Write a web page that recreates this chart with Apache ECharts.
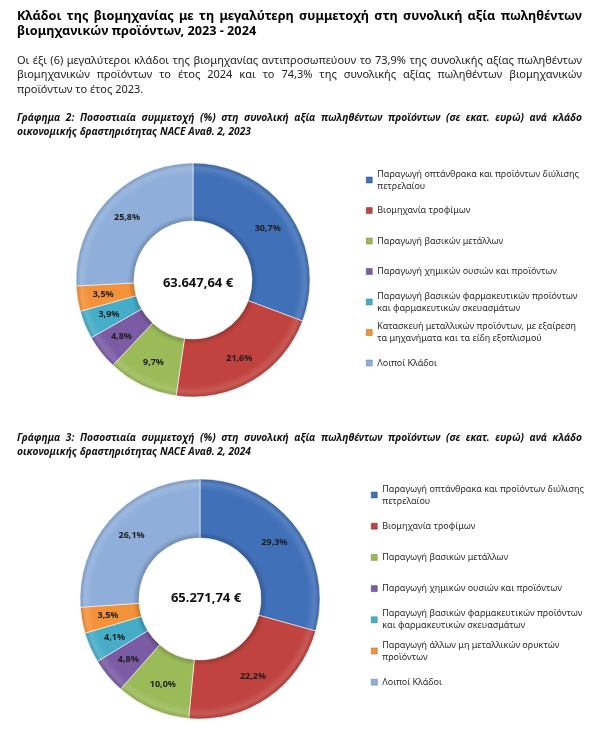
<!DOCTYPE html>
<html>
<head>
<meta charset="utf-8">
<script src="https://cdn.jsdelivr.net/npm/echarts@6/dist/echarts.min.js"></script>
<style>
  html, body { margin: 0; padding: 0; background: #fff; }
  #page { position: relative; width: 603px; height: 733px; overflow: hidden; }
  #chart { position: absolute; left: 0; top: 0; width: 603px; height: 733px; }
  .ln {
    position: absolute; left: 17px; width: 565px; height: 14px; line-height: 14px;
    font-family: "Noto Sans", sans-serif; color: #111; white-space: nowrap; z-index: 2;
  }
  .j { text-align: justify; text-align-last: justify; }
  .ttl { font-weight: bold; font-size: 12.7px; color: #000; }
  .par { font-size: 11px; color: #222; }
  .cap { font-weight: bold; font-style: italic; font-size: 10.2px; color: #111; }
</style>
</head>
<body>
<div id="page">
  <div id="chart"></div>
  <div class="ln ttl j" style="top:8px">Κλάδοι της βιομηχανίας με τη μεγαλύτερη συμμετοχή στη συνολική αξία πωληθέντων</div>
  <div class="ln ttl" style="top:23px">βιομηχανικών προϊόντων, 2023 - 2024</div>
  <div class="ln par j" style="top:53px">Οι έξι (6) μεγαλύτεροι κλάδοι της βιομηχανίας αντιπροσωπεύουν το 73,9% της συνολικής αξίας πωληθέντων</div>
  <div class="ln par j" style="top:67px">βιομηχανικών προϊόντων το έτος 2024 και το 74,3% της συνολικής αξίας πωληθέντων βιομηχανικών</div>
  <div class="ln par" style="top:82px">προϊόντων το έτος 2023.</div>
  <div class="ln cap j" style="top:110px">Γράφημα 2: Ποσοστιαία συμμετοχή (%) στη συνολική αξία πωληθέντων προϊόντων (σε εκατ. ευρώ) ανά κλάδο</div>
  <div class="ln cap" style="top:124px">οικονομικής δραστηριότητας NACE Αναθ. 2, 2023</div>
  <div class="ln cap j" style="top:430px">Γράφημα 3: Ποσοστιαία συμμετοχή (%) στη συνολική αξία πωληθέντων προϊόντων (σε εκατ. ευρώ) ανά κλάδο</div>
  <div class="ln cap" style="top:444px">οικονομικής δραστηριότητας NACE Αναθ. 2, 2024</div>
</div>
<script>
// branches, same order in both years (only the 6th differs)
const categories2023 = [
  'Παραγωγή οπτάνθρακα και προϊόντων διύλισης\nπετρελαίου',
  'Βιομηχανία τροφίμων',
  'Παραγωγή βασικών μετάλλων',
  'Παραγωγή χημικών ουσιών και προϊόντων',
  'Παραγωγή βασικών φαρμακευτικών προϊόντων\nκαι φαρμακευτικών σκευασμάτων',
  'Κατασκευή μεταλλικών προϊόντων, με εξαίρεση\nτα μηχανήματα και τα είδη εξοπλισμού',
  'Λοιποί Κλάδοι',
]
const categories2024 = [
  'Παραγωγή οπτάνθρακα και προϊόντων διύλισης\nπετρελαίου',
  'Βιομηχανία τροφίμων',
  'Παραγωγή βασικών μετάλλων',
  'Παραγωγή χημικών ουσιών και προϊόντων',
  'Παραγωγή βασικών φαρμακευτικών προϊόντων\nκαι φαρμακευτικών σκευασμάτων',
  'Παραγωγή άλλων μη μεταλλικών ορυκτών\nπροϊόντων',
  'Λοιποί Κλάδοι',
]
const shares2023 = [30.7, 21.6, 9.7, 4.8, 3.9, 3.5, 25.8]
const shares2024 = [29.3, 22.2, 10.0, 4.8, 4.1, 3.5, 26.1]
const total2023 = 63647.64
const total2024 = 65271.74

const sliceColors = ['#4070B8', '#C0433F', '#9BBB59', '#7B5CA4', '#46ADC8', '#F4923A', '#8FAEDA']

const FONT = '"Noto Sans", sans-serif'

function shade(hex, k) {
  const n = parseInt(hex.slice(1), 16)
  let rgb = [(n >> 16) & 255, (n >> 8) & 255, n & 255]
  rgb = rgb.map(v => Math.round(k >= 0 ? v + (255 - v) * k : v * (1 + k)))
  return 'rgb(' + rgb.join(',') + ')'
}

function fmtTotal(v) {
  const [i, d] = v.toFixed(2).split('.')
  return i.replace(/\B(?=(\d{3})+(?!\d))/g, '.') + ',' + d + ' €'
}

function bevel(c, cx, cy, r, r0) {
  const s = r0 / r
  return {
    type: 'radial', x: cx, y: cy, r: r, global: true,
    colorStops: [
      { offset: s, color: shade(c, -0.2) },
      { offset: s + 0.05, color: c },
      { offset: 0.9, color: c },
      { offset: 0.96, color: shade(c, 0.12) },
      { offset: 1, color: shade(c, -0.12) },
    ],
  }
}

function donut(names, values, cx, cy, r, r0) {
  return {
    type: 'pie',
    center: [cx, cy],
    radius: [r0, r],
    startAngle: 90,
    clockwise: true,
    silent: true,
    avoidLabelOverlap: false,
    itemStyle: { borderColor: 'rgba(255,255,255,0.55)', borderWidth: 1 },
    label: {
      show: true,
      position: 'inside',
      fontFamily: FONT,
      fontSize: 9,
      fontWeight: 'bold',
      color: '#1c1c1c',
      formatter: p => p.value.toFixed(1).replace('.', ',') + '%',
    },
    labelLine: { show: false },
    emphasis: { disabled: true },
    data: names.map((n, i) => ({
      name: n,
      value: values[i],
      itemStyle: { color: bevel(sliceColors[i], cx, cy, r, r0) },
    })),
  }
}

function legends(names, left, firstY, step) {
  return names.map((n, i) => {
    const twoLines = n.includes('\n')
    return {
      orient: 'vertical',
      left: left,
      top: firstY + i * step - (twoLines ? 18 : 6),
      padding: 0,
      itemWidth: 6,
      itemHeight: 6,
      icon: 'rect',
      selectedMode: false,
      textStyle: {
        fontFamily: FONT,
        fontSize: 9,
        color: '#2b2b2b',
        lineHeight: 12,
        padding: twoLines ? [12, 0, 0, 0] : 0,
      },
      data: [{ name: n, itemStyle: { color: sliceColors[i], borderColor: shade(sliceColors[i], -0.3), borderWidth: 0.5 } }],
    }
  })
}

const chart = echarts.init(document.getElementById('chart'))
chart.setOption({
  animation: false,
  legend: [
    ...legends(categories2023, 366, 180, 30.5),
    ...legends(categories2024, 371, 495, 31.2),
  ],
  series: [
    donut(categories2023, shares2023, 193, 280, 117, 59),
    donut(categories2024, shares2024, 200, 599, 120, 61),
  ],
  graphic: [
    {
      type: 'text', x: 198, y: 283,
      style: { text: fmtTotal(total2023), font: 'bold 13px ' + FONT, fill: '#111', textAlign: 'center', textVerticalAlign: 'middle', align: 'center', verticalAlign: 'middle' },
    },
    {
      type: 'text', x: 206, y: 598,
      style: { text: fmtTotal(total2024), font: 'bold 13px ' + FONT, fill: '#111', textAlign: 'center', textVerticalAlign: 'middle', align: 'center', verticalAlign: 'middle' },
    },
  ],
})
</script>
</body>
</html>
